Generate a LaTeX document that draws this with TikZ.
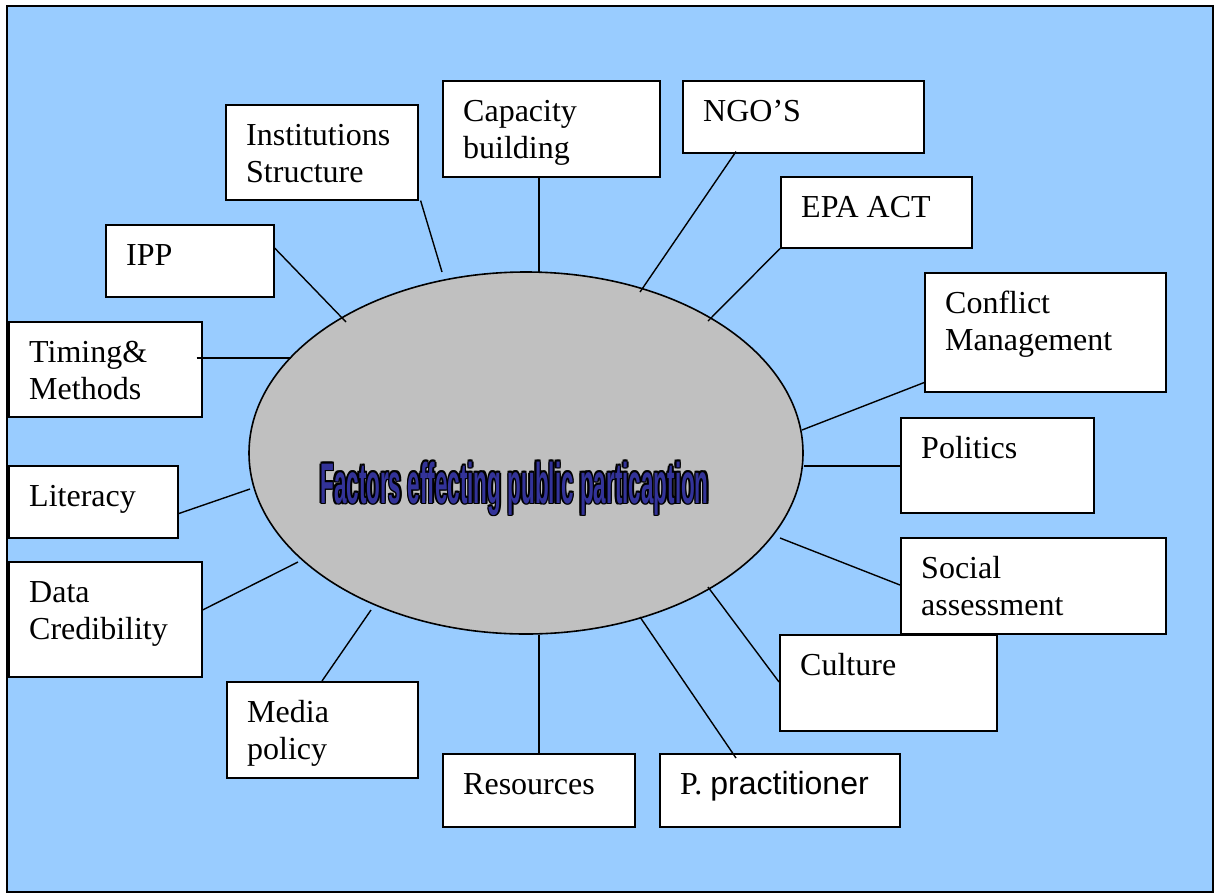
\documentclass[tikz,border=0pt]{standalone}
\usepackage{fontspec}
\setmainfont{Liberation Serif}
\newfontfamily\arialfont{Liberation Sans}
\usetikzlibrary{calc,shapes.geometric}
\definecolor{bgblue}{HTML}{99CCFF}
\definecolor{ellgray}{HTML}{C0C0C0}
\definecolor{ttlblue}{HTML}{333399}
\tikzset{
  fbox/.style={draw=black, fill=white, line width=1.6pt, inner sep=0pt, anchor=north west, rectangle},
  lbl/.style={anchor=base west, inner sep=0pt, font=\fontsize{32}{37}\selectfont},
  conn/.style={draw=black, line width=1.4pt},
  ttl/.style={anchor=base, inner sep=0pt},
}
\newcommand{\mybox}[5]{\node[fbox, minimum width={#4-#2}, minimum height={#5-#3}] (#1) at (#2,#3) {};}
\newcommand{\mylbl}[2]{\node[lbl] (#1t) at ($(#1.north west)+(21,41)$) {#2};}
\newcommand{\twol}[2]{\vtop{\hbox{#1}\hbox{#2}}}
\newcommand{\ttltext}{\scalebox{0.562}[1.43]{\arialfont\bfseries\fontsize{40}{40}\selectfont Factors effecting public particaption}}
\begin{document}
\begin{tikzpicture}[x=1pt,y=-1pt]
\useasboundingbox (0,0) rectangle (1216,895);
\fill[white] (0,0) rectangle (1216,895);
\draw[fill=bgblue, line width=1.6pt] (7,6) rectangle (1213,892);
\node[draw=black, fill=ellgray, ellipse, line width=1.6pt, inner sep=0pt, minimum width=554pt, minimum height=362pt] (ell) at (526,453) {};

% title with outline
\coordinate (tc) at (514.5,503);
\foreach \dx/\dy [count=\i] in {1.6/0,-1.6/0,0/1.6,0/-1.6,1.1/1.1,1.1/-1.1,-1.1/1.1,-1.1/-1.1}{
  \node[ttl, text=black] (tb\i) at ($(tc)+(\dx,\dy)$) {\ttltext};
}
\node[ttl, text=ttlblue] (title) at (tc) {\ttltext};

% boxes
\mybox{inst}{225}{104}{417}{199}
\mybox{cap}{442}{80}{659}{176}
\mybox{ngo}{682}{80}{923}{152}
\mybox{epa}{780}{176}{971}{247}
\mybox{ipp}{105}{224}{273}{296}
\mybox{tim}{8}{321}{201}{416}
\mybox{con}{924}{272}{1165}{391}
\mybox{pol}{900}{417}{1093}{512}
\mybox{lit}{8}{465}{177}{537}
\mybox{dat}{8}{561}{201}{676}
\mybox{soc}{900}{537}{1165}{633}
\mybox{cul}{779}{634}{996}{730}
\mybox{med}{226}{681}{417}{777}
\mybox{res}{442}{753}{634}{826}
\mybox{pp}{659}{753}{899}{826}

% labels
\mylbl{inst}{\twol{Institutions}{Structure}}
\mylbl{cap}{\twol{Capacity}{building}}
\mylbl{ngo}{NGO’S}
\mylbl{epa}{EPA ACT}
\mylbl{ipp}{IPP}
\mylbl{tim}{\twol{Timing\&}{Methods}}
\mylbl{con}{\twol{Conflict}{Management}}
\mylbl{pol}{Politics}
\mylbl{lit}{Literacy}
\mylbl{dat}{\twol{Data}{Credibility}}
\mylbl{soc}{\twol{Social}{assessment}}
\mylbl{cul}{Culture}
\mylbl{med}{\twol{Media}{policy}}
\mylbl{res}{Resources}
\mylbl{pp}{P. {\arialfont practitioner}}

% ellipse end points
\coordinate (eInst) at (442,272);
\coordinate (eCap) at (539,272);
\coordinate (eNgo) at (640,292);
\coordinate (eEpa) at (708,321);
\coordinate (eIpp) at (346,322);
\coordinate (eTim) at (291,358);
\coordinate (eCon) at (802,430);
\coordinate (ePol) at (804,466);
\coordinate (eLit) at (250,489);
\coordinate (eDat) at (298,562);
\coordinate (eMed) at (371,610);
\coordinate (eRes) at (539,635);
\coordinate (ePp) at (640,617);
\coordinate (eCul) at (708,587);
\coordinate (eSoc) at (780,538);

% connectors
\draw[conn] ($(inst.south east)+(2,0)$) -- (eInst);
\draw[conn] (eCap |- cap.south) -- (eCap);
\draw[conn] ($(ngo.south west)+(54,-2)$) -- (eNgo);
\draw[conn] (epa.south west) -- (eEpa);
\draw[conn] ($(ipp.north east)+(0,24)$) -- (eIpp);
\draw[conn] ($(tim.north east)+(-6,37)$) -- (eTim);
\draw[conn] ($(con.south west)+(0,-10)$) -- (eCon);
\draw[conn] (pol.west |- ePol) -- (ePol);
\draw[conn] ($(lit.south east)+(0,-25)$) -- (eLit);
\draw[conn] ($(dat.north east)+(0,49)$) -- (eDat);
\draw[conn] ($(med.north west)+(96,0)$) -- (eMed);
\draw[conn] (eRes |- res.north) -- (eRes);
\draw[conn] ($(pp.north west)+(77,5)$) -- (ePp);
\draw[conn] ($(cul.north west)+(0,48)$) -- (eCul);
\draw[conn] ($(soc.north west)+(0,48)$) -- (eSoc);
\end{tikzpicture}
\end{document}
